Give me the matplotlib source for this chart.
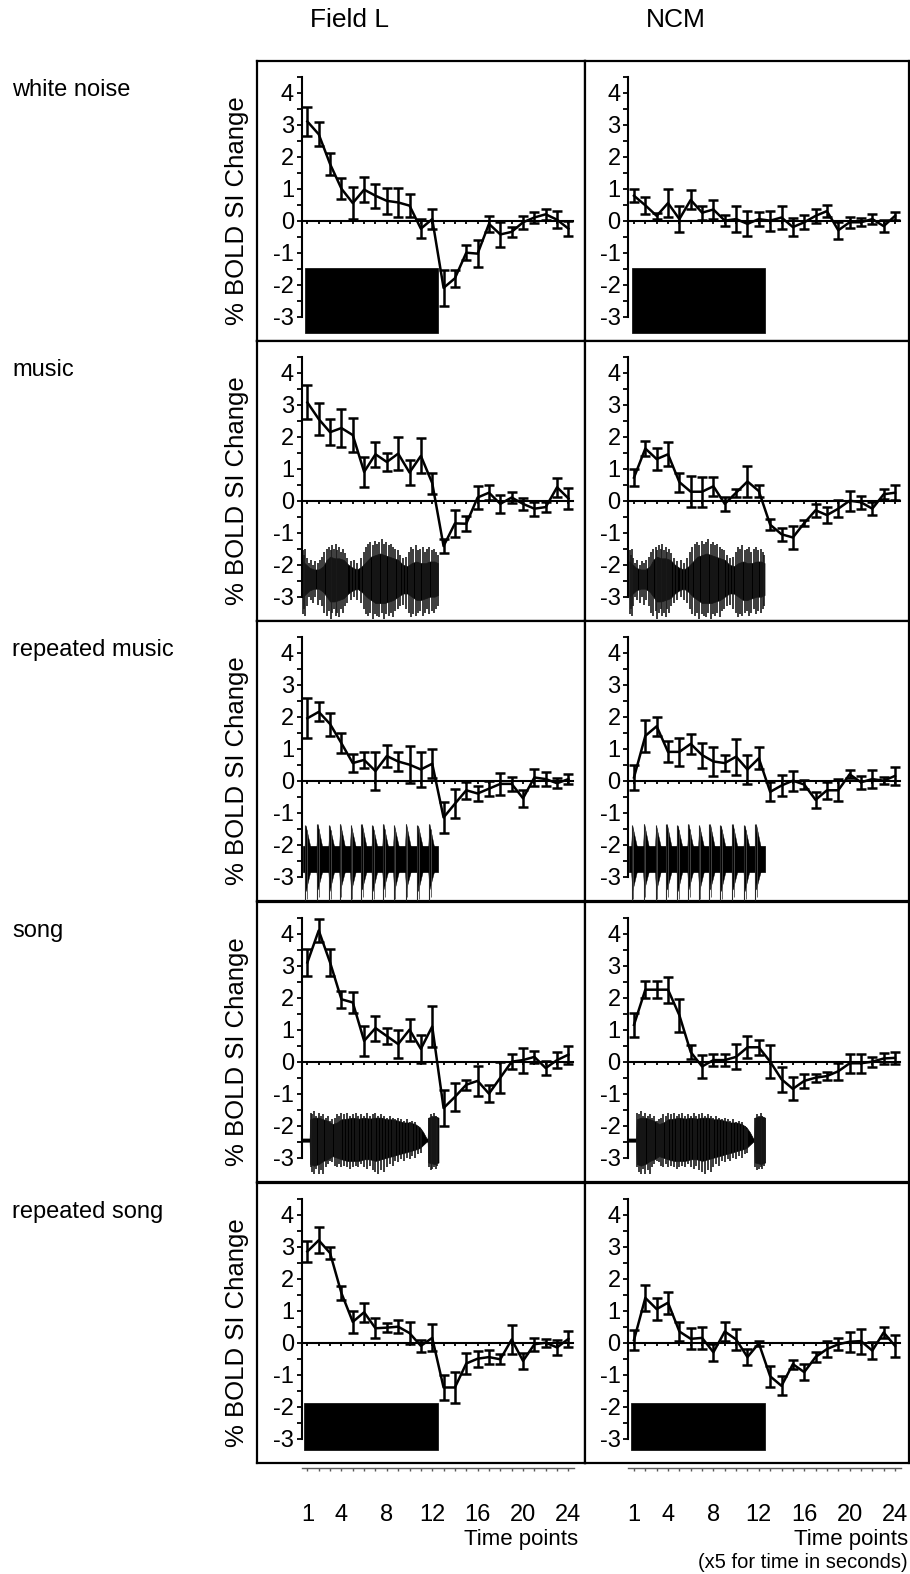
import numpy as np
import matplotlib.pyplot as plt

plt.rcParams['font.family'] = ['Liberation Sans', 'DejaVu Sans']
plt.rcParams['axes.unicode_minus'] = False

# -----------------------------
# data
# -----------------------------
time_points = np.arange(1, 25)
row_names = ['white noise', 'music', 'repeated music', 'song', 'repeated song']
col_names = ['Field L', 'NCM']
major_ticks = [1, 4, 8, 12, 16, 20, 24]

wn_fieldL = [3.1, 2.7, 1.77, 1.0, 0.55, 0.97, 0.78, 0.62, 0.57, 0.47, -0.25, 0.05,
             -2.1, -1.8, -1.0, -1.03, -0.1, -0.43, -0.35, -0.05, 0.1, 0.2, 0.03, -0.25]
wn_fieldL_err = [0.44, 0.38, 0.34, 0.33, 0.5, 0.39, 0.38, 0.4, 0.45, 0.35, 0.3, 0.32,
                 0.57, 0.27, 0.24, 0.42, 0.25, 0.4, 0.15, 0.2, 0.16, 0.17, 0.27, 0.23]
wn_ncm = [0.78, 0.48, 0.15, 0.55, 0.05, 0.65, 0.25, 0.35, 0.0, 0.05, -0.1, 0.05,
          0.0, 0.1, -0.2, -0.05, 0.15, 0.3, -0.3, -0.05, -0.05, 0.05, -0.17, 0.15]
wn_ncm_err = [0.21, 0.26, 0.1, 0.43, 0.4, 0.3, 0.22, 0.29, 0.18, 0.4, 0.39, 0.23,
              0.31, 0.36, 0.28, 0.22, 0.23, 0.19, 0.26, 0.17, 0.12, 0.16, 0.18, 0.13]

mus_fieldL = [3.07, 2.55, 2.14, 2.27, 2.05, 0.9, 1.45, 1.21, 1.47, 0.88, 1.4, 0.55,
              -1.42, -0.71, -0.72, 0.1, 0.25, -0.1, 0.1, -0.1, -0.25, -0.2, 0.42, 0.07]
mus_fieldL_err = [0.53, 0.5, 0.4, 0.58, 0.52, 0.46, 0.39, 0.27, 0.51, 0.39, 0.55, 0.33,
                  0.23, 0.42, 0.23, 0.36, 0.24, 0.29, 0.18, 0.18, 0.22, 0.16, 0.3, 0.32]
mus_ncm = [0.72, 1.63, 1.3, 1.45, 0.58, 0.28, 0.28, 0.45, -0.1, 0.25, 0.6, 0.3,
           -0.75, -1.05, -1.15, -0.7, -0.3, -0.45, -0.25, 0.0, -0.05, -0.25, 0.2, 0.25]
mus_ncm_err = [0.26, 0.23, 0.34, 0.37, 0.3, 0.49, 0.47, 0.29, 0.22, 0.13, 0.47, 0.18,
               0.18, 0.21, 0.36, 0.1, 0.21, 0.26, 0.26, 0.31, 0.21, 0.21, 0.16, 0.24]

rmus_fieldL = [1.95, 2.15, 1.77, 1.17, 0.55, 0.65, 0.3, 0.77, 0.6, 0.5, 0.35, 0.53,
               -1.15, -0.72, -0.3, -0.4, -0.25, -0.1, -0.1, -0.55, 0.1, 0.05, -0.08, 0.05]
rmus_fieldL_err = [0.62, 0.3, 0.36, 0.32, 0.28, 0.24, 0.59, 0.33, 0.31, 0.57, 0.54, 0.46,
                   0.47, 0.45, 0.26, 0.23, 0.23, 0.34, 0.23, 0.26, 0.26, 0.21, 0.15, 0.16]
rmus_ncm = [0.1, 1.4, 1.7, 0.9, 0.9, 1.15, 0.8, 0.6, 0.55, 0.75, 0.35, 0.7,
            -0.35, -0.15, 0.0, -0.12, -0.6, -0.3, -0.3, 0.2, -0.05, 0.05, 0.0, 0.15]
rmus_ncm_err = [0.39, 0.5, 0.3, 0.33, 0.44, 0.31, 0.39, 0.44, 0.24, 0.56, 0.44, 0.34,
                0.3, 0.33, 0.31, 0.13, 0.26, 0.26, 0.34, 0.13, 0.2, 0.29, 0.1, 0.28]

song_fieldL = [3.1, 4.1, 3.1, 1.95, 1.85, 0.65, 1.05, 0.8, 0.55, 1.0, 0.4, 1.1,
               -1.45, -1.1, -0.72, -0.6, -1.0, -0.5, 0.0, 0.05, 0.15, -0.2, 0.05, 0.22]
song_fieldL_err = [0.42, 0.36, 0.42, 0.27, 0.34, 0.48, 0.39, 0.24, 0.44, 0.34, 0.44, 0.63,
                   0.55, 0.44, 0.16, 0.47, 0.26, 0.48, 0.24, 0.39, 0.18, 0.23, 0.24, 0.28]
song_ncm = [1.15, 2.25, 2.25, 2.25, 1.45, 0.3, -0.15, 0.05, 0.05, 0.15, 0.45, 0.45,
            0.0, -0.55, -0.85, -0.6, -0.5, -0.45, -0.3, -0.05, -0.05, 0.0, 0.1, 0.12]
song_ncm_err = [0.37, 0.26, 0.26, 0.41, 0.52, 0.21, 0.36, 0.18, 0.18, 0.39, 0.34, 0.24,
                0.52, 0.39, 0.36, 0.23, 0.12, 0.13, 0.26, 0.29, 0.3, 0.16, 0.18, 0.18]

rsong_fieldL = [2.85, 3.2, 2.8, 1.55, 0.65, 0.95, 0.45, 0.47, 0.5, 0.3, -0.1, 0.15,
                -1.4, -1.4, -0.65, -0.5, -0.45, -0.52, 0.1, -0.57, -0.05, 0.0, -0.15, 0.12]
rsong_fieldL_err = [0.32, 0.4, 0.2, 0.22, 0.34, 0.3, 0.31, 0.13, 0.21, 0.34, 0.18, 0.42,
                    0.39, 0.47, 0.34, 0.25, 0.21, 0.16, 0.45, 0.24, 0.2, 0.13, 0.24, 0.24]
rsong_ncm = [0.08, 1.4, 1.05, 1.25, 0.35, 0.12, 0.15, -0.3, 0.35, 0.1, -0.45, -0.02,
             -1.05, -1.35, -0.67, -0.92, -0.45, -0.2, -0.05, 0.03, 0.05, -0.25, 0.32, -0.1]
rsong_ncm_err = [0.32, 0.4, 0.34, 0.34, 0.3, 0.33, 0.35, 0.27, 0.3, 0.34, 0.24, 0.08,
                 0.32, 0.3, 0.14, 0.24, 0.16, 0.24, 0.19, 0.31, 0.39, 0.27, 0.16, 0.34]

# stimulus envelopes (sketch of the sound waveforms)
wn_wave_x = [0.8, 12.5]
wn_wave_top = [-1.48, -1.48]
wn_wave_bot = [-3.52, -3.52]

mus_wave_x = [0.6, 0.9, 1.2, 1.6, 2.0, 2.4, 2.7, 3.0, 3.4, 3.8, 4.2, 4.6, 5.0, 5.4, 5.8, 6.2,
              6.6, 7.0, 7.4, 7.8, 8.2, 8.6, 9.0, 9.4, 9.8, 10.2, 10.6, 11.0, 11.4, 11.8, 12.2, 12.5]
mus_wave_top = [-1.9, -2.0, -2.1, -2.15, -2.15, -2.05, -1.85, -1.75, -1.8, -1.8, -1.85, -2.0, -2.1,
                -2.15, -2.05, -1.9, -1.75, -1.7, -1.65, -1.7, -1.75, -1.8, -1.85, -2.0, -2.05, -1.95,
                -1.9, -1.95, -1.95, -1.9, -1.9, -1.95]
mus_wave_bot = [-3.0, -2.9, -2.8, -2.75, -2.75, -2.85, -3.0, -3.15, -3.15, -3.1, -3.05, -2.9, -2.8,
                -2.75, -2.85, -3.0, -3.1, -3.2, -3.2, -3.2, -3.15, -3.1, -3.0, -2.9, -2.9, -3.0,
                -3.1, -3.1, -3.05, -3.0, -3.0, -2.95]
mus_spike_x = [0.62, 0.72, 0.82, 0.95, 1.1, 1.3, 1.5, 1.7, 1.9, 2.1, 2.3, 2.5, 2.7, 2.9, 3.05,
               3.2, 3.35, 3.5, 3.65, 3.8, 3.95, 4.1, 4.3, 4.5, 4.8, 5.1, 5.4, 5.7, 5.95, 6.15,
               6.35, 6.55, 6.75, 6.95, 7.15, 7.35, 7.55, 7.75, 7.95, 8.15, 8.35, 8.55, 8.75,
               8.95, 9.2, 9.45, 9.7, 9.95, 10.15, 10.35, 10.55, 10.75, 10.95, 11.15, 11.35,
               11.55, 11.75, 11.95, 12.15, 12.35, 12.48]
mus_spike_top = [-1.55, -1.7, -1.5, -1.8, -1.95, -1.85, -2.0, -1.9, -1.95, -1.85, -1.75, -1.6,
                 -1.5, -1.45, -1.55, -1.4, -1.5, -1.35, -1.55, -1.45, -1.6, -1.5, -1.65, -1.8,
                 -1.9, -1.85, -1.95, -1.8, -1.6, -1.45, -1.35, -1.3, -1.4, -1.25, -1.35, -1.3,
                 -1.2, -1.35, -1.3, -1.4, -1.35, -1.45, -1.5, -1.55, -1.7, -1.8, -1.75, -1.6,
                 -1.45, -1.5, -1.4, -1.55, -1.5, -1.45, -1.6, -1.5, -1.45, -1.55, -1.5, -1.6, -1.7]
mus_spike_bot = [-3.55, -3.4, -3.6, -3.3, -3.0, -3.1, -3.2, -3.0, -3.25, -3.1, -3.3, -3.5,
                 -3.6, -3.45, -3.7, -3.5, -3.4, -3.6, -3.5, -3.65, -3.4, -3.5, -3.3, -3.2,
                 -3.1, -3.0, -3.1, -3.2, -3.4, -3.55, -3.6, -3.5, -3.7, -3.55, -3.6, -3.65,
                 -3.5, -3.7, -3.55, -3.6, -3.5, -3.65, -3.45, -3.4, -3.3, -3.25, -3.4, -3.5,
                 -3.65, -3.55, -3.6, -3.5, -3.45, -3.6, -3.5, -3.4, -3.55, -3.45, -3.5, -3.4, -3.3]

rmus_wave_x = [0.6, 12.5]
rmus_wave_top = [-2.05, -2.05]
rmus_wave_bot = [-2.85, -2.85]
rmus_burst_x = [0.8, 1.85, 2.9, 3.85, 4.8, 5.75, 6.7, 7.65, 8.6, 9.65, 10.7, 11.7]
rmus_burst_top = [-1.4, -1.35, -1.4, -1.35, -1.4, -1.35, -1.4, -1.35, -1.4, -1.35, -1.4, -1.35]
rmus_burst_bot = [-3.8, -3.75, -3.8, -3.75, -3.8, -3.75, -3.8, -3.75, -3.8, -3.75, -3.8, -3.75]

song_wave_x = [0.5, 1.2, 1.25, 1.6, 2.0, 2.4, 2.8, 3.2, 3.6, 4.0, 4.5, 5.0, 5.5, 6.0, 6.5, 7.0,
               7.5, 8.0, 8.5, 9.0, 9.5, 10.0, 10.5, 10.9, 11.2, 11.5, 11.6, 11.65, 12.2, 12.55]
song_wave_top = [-2.4, -2.4, -1.8, -1.75, -1.75, -1.8, -1.85, -1.95, -1.9, -1.8, -1.78, -1.75,
                 -1.78, -1.75, -1.78, -1.75, -1.75, -1.8, -1.8, -1.85, -1.9, -1.9, -1.95, -2.05,
                 -2.2, -2.4, -2.4, -1.75, -1.7, -1.75]
song_wave_bot = [-2.5, -2.5, -3.2, -3.25, -3.2, -3.1, -3.05, -2.95, -3.0, -3.05, -3.1, -3.1,
                 -3.1, -3.05, -3.05, -3.1, -3.05, -3.0, -2.95, -2.9, -2.85, -2.8, -2.75, -2.7,
                 -2.6, -2.5, -2.5, -3.15, -3.2, -3.15]
song_spike_x = [1.3, 1.45, 1.6, 1.8, 2.0, 2.2, 2.4, 2.6, 2.8, 3.0, 3.2, 3.4, 3.6, 3.8, 4.0,
                4.25, 4.5, 4.75, 5.0, 5.25, 5.5, 5.75, 6.0, 6.25, 6.5, 6.75, 7.0, 7.25, 7.5,
                7.75, 8.0, 8.25, 8.5, 8.75, 9.0, 9.25, 9.5, 9.75, 10.0, 10.25, 10.5, 10.75,
                11.0, 11.7, 11.85, 12.0, 12.15, 12.3, 12.45]
song_spike_top = [-1.6, -1.65, -1.55, -1.7, -1.6, -1.7, -1.65, -1.75, -1.7, -1.85, -1.8, -1.75,
                  -1.65, -1.7, -1.6, -1.65, -1.6, -1.7, -1.65, -1.6, -1.7, -1.65, -1.7, -1.6,
                  -1.7, -1.65, -1.6, -1.7, -1.65, -1.7, -1.75, -1.7, -1.75, -1.8, -1.75, -1.8,
                  -1.85, -1.8, -1.9, -1.85, -1.9, -2.0, -2.1, -1.75, -1.65, -1.7, -1.6, -1.7, -1.75]
song_spike_bot = [-3.3, -3.45, -3.5, -3.35, -3.5, -3.4, -3.5, -3.3, -3.2, -3.1, -3.15, -3.25,
                  -3.3, -3.2, -3.3, -3.25, -3.3, -3.35, -3.3, -3.25, -3.3, -3.2, -3.3, -3.35,
                  -3.25, -3.4, -3.45, -3.5, -3.4, -3.45, -3.3, -3.2, -3.25, -3.1, -3.15, -3.05,
                  -3.1, -3.0, -3.05, -2.95, -3.0, -2.9, -2.85, -3.3, -3.4, -3.35, -3.3, -3.35, -3.25]

rsong_wave_x = [0.7, 12.5]
rsong_wave_top = [-1.9, -1.9]
rsong_wave_bot = [-3.35, -3.35]

rows = [
    (wn_fieldL, wn_fieldL_err, wn_ncm, wn_ncm_err,
     (wn_wave_x, wn_wave_top, wn_wave_bot), None, None),
    (mus_fieldL, mus_fieldL_err, mus_ncm, mus_ncm_err,
     (mus_wave_x, mus_wave_top, mus_wave_bot), (mus_spike_x, mus_spike_top, mus_spike_bot), None),
    (rmus_fieldL, rmus_fieldL_err, rmus_ncm, rmus_ncm_err,
     (rmus_wave_x, rmus_wave_top, rmus_wave_bot), None, (rmus_burst_x, rmus_burst_top, rmus_burst_bot)),
    (song_fieldL, song_fieldL_err, song_ncm, song_ncm_err,
     (song_wave_x, song_wave_top, song_wave_bot), (song_spike_x, song_spike_top, song_spike_bot), None),
    (rsong_fieldL, rsong_fieldL_err, rsong_ncm, rsong_ncm_err,
     (rsong_wave_x, rsong_wave_top, rsong_wave_bot), None, None),
]

# -----------------------------
# layout (pixels)
# -----------------------------
W, H = 910, 1574
fig = plt.figure(figsize=(W / 100, H / 100), dpi=100)


def px_axes(x0, y0, w, h):
    return fig.add_axes([x0 / W, 1 - (y0 + h) / H, w / W, h / H])


row_tops = [61, 341, 621, 902, 1183]
row_h = 280
box_lefts = [257, 585]
box_ws = [328, 324]
inner_lefts = [301.7, 628.3]
inner_w = 272.4
ylo, yhi = -3.76, 4.99

tick_fs = 17
row_fs = 17
ylab_fs = 18.5
title_fs = 19

for r, (fl, fl_err, ncm, ncm_err, wave, spikes, bursts) in enumerate(rows):
    top = row_tops[r]
    for c, (mean, err) in enumerate([(fl, fl_err), (ncm, ncm_err)]):
        box = px_axes(box_lefts[c], top, box_ws[c], row_h)
        box.set_xticks([])
        box.set_yticks([])
        for s in box.spines.values():
            s.set_linewidth(1.6)

        ax = px_axes(inner_lefts[c], top, inner_w, row_h)
        ax.patch.set_alpha(0)
        ax.set_xlim(0.5, 24.5)
        ax.set_ylim(ylo, yhi)
        ax.spines['top'].set_visible(False)
        ax.spines['right'].set_visible(False)
        ax.spines['left'].set_bounds(-3, 4.5)
        ax.spines['left'].set_linewidth(1.5)
        ax.spines['bottom'].set_position(('data', 0))
        ax.spines['bottom'].set_bounds(0.5, 24.4)
        ax.spines['bottom'].set_linewidth(1.5)
        ax.set_yticks(np.arange(-3, 5))
        ax.set_yticks(np.arange(-3, 4.6, 0.5), minor=True)
        ax.set_xticks([])
        ax.set_xticks(time_points, minor=True)
        ax.tick_params(axis='y', which='both', direction='out', length=3.5, width=1.3,
                       labelsize=tick_fs, pad=2)
        ax.tick_params(axis='x', which='minor', direction='out', length=2.5, width=1.3)

        # sound waveform
        wx, wt, wb = wave
        ax.fill_between(wx, wb, wt, color='black', lw=0.5, zorder=1)
        if spikes is not None:
            sx, st, sb = spikes
            ax.vlines(sx, sb, st, color='0.1', lw=1.2, zorder=1)
        if bursts is not None:
            bx, bt, bb = bursts
            for x0, t0, b0 in zip(bx, bt, bb):
                ax.fill_between([x0 - 0.05, x0 + 0.05, x0 + 0.45],
                                [wb[0], b0 + 0.35, wb[0]], [wt[0], t0, wt[0]],
                                color='black', lw=0.3, zorder=1)
            ax.vlines(bx, bb, bt, color='0.15', lw=0.8, zorder=1)
            ax.vlines(np.array(bx) + 0.15, np.array(bb) + 0.1, np.array(bt) - 0.15,
                      color='0.3', lw=0.6, zorder=1)

        ax.errorbar(time_points, mean, yerr=err, color='black', lw=1.8,
                    elinewidth=1.8, capsize=3.3, capthick=1.8, zorder=3)

    fig.text(12 / W, 1 - (top + 29) / H, row_names[r], fontsize=row_fs,
             ha='left', va='center')
    fig.text(237 / W, 1 - (top + 150) / H, '% BOLD SI Change', fontsize=ylab_fs,
             rotation=90, ha='center', va='center')

# column titles
fig.text(350 / W, 1 - 20 / H, col_names[0], fontsize=title_fs, ha='center', va='center')
fig.text(676 / W, 1 - 20 / H, col_names[1], fontsize=title_fs, ha='center', va='center')

# -----------------------------
# time axes under the last row
# -----------------------------
for c in range(2):
    tax = px_axes(inner_lefts[c], 1467, inner_w, 0.5)
    tax.patch.set_alpha(0)
    tax.set_xlim(0.5, 24.5)
    for side in ['top', 'left', 'right']:
        tax.spines[side].set_visible(False)
    tax.spines['bottom'].set_linewidth(1.0)
    tax.spines['bottom'].set_color('0.35')
    tax.set_yticks([])
    tax.set_xticks(major_ticks)
    tax.set_xticks(time_points, minor=True)
    tax.tick_params(axis='x', which='both', direction='out', length=2.5, width=1.0,
                    color='0.35', labelsize=tick_fs, pad=24)

fig.text(578 / W, 1 - 1539 / H, 'Time points', fontsize=16, ha='right', va='center')
fig.text(908 / W, 1 - 1539 / H, 'Time points', fontsize=16, ha='right', va='center')
fig.text(908 / W, 1 - 1563 / H, '(x5 for time in seconds)', fontsize=14.5,
         ha='right', va='center')

fig.savefig('out.png', dpi=100)
